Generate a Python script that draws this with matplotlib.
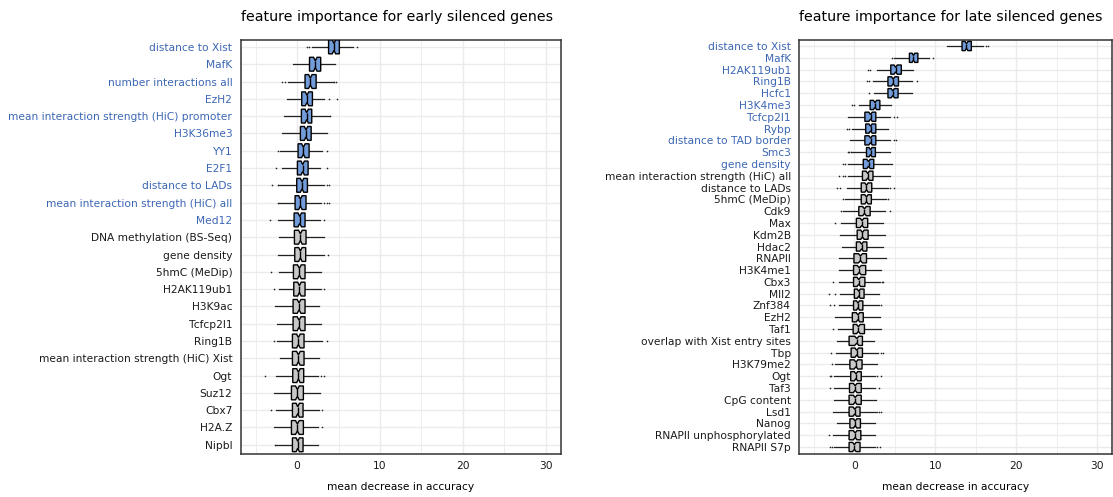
import numpy as np
import matplotlib.pyplot as plt
from matplotlib.ticker import MultipleLocator

# early silenced genes: box summaries of permutation importance
early_features = ['distance to Xist', 'MafK', 'number interactions all', 'EzH2',
                  'mean interaction strength (HiC) promoter', 'H3K36me3', 'YY1', 'E2F1',
                  'distance to LADs', 'mean interaction strength (HiC) all', 'Med12',
                  'DNA methylation (BS-Seq)', 'gene density', '5hmC (MeDip)', 'H2AK119ub1',
                  'H3K9ac', 'Tcfcp2l1', 'Ring1B', 'mean interaction strength (HiC) Xist',
                  'Ogt', 'Suz12', 'Cbx7', 'H2A.Z', 'Nipbl']
early_q1 = [3.8, 1.5, 0.96, 0.56, 0.52, 0.4, 0.12, 0.04, -0.04, -0.24, -0.36, -0.32,
            -0.28, -0.44, -0.4, -0.48, -0.48, -0.56, -0.56, -0.52, -0.68, -0.56, -0.68, -0.56]
early_med = [4.45, 2.2, 1.6, 1.2, 1.16, 1.08, 0.76, 0.68, 0.6, 0.4, 0.32, 0.4,
             0.4, 0.28, 0.28, 0.24, 0.24, 0.16, 0.16, 0.16, 0.04, 0.08, 0.04, 0.08]
early_q3 = [5.1, 2.85, 2.3, 1.85, 1.77, 1.7, 1.45, 1.33, 1.25, 1.08, 0.96, 1.08,
            1.04, 0.96, 0.96, 0.96, 0.96, 0.84, 0.84, 0.8, 0.76, 0.72, 0.76, 0.72]
early_wlo = [1.8, -0.5, -1.1, -1.25, -1.6, -1.85, -2.0, -1.8, -2.2, -2.15, -2.35, -2.15,
             -2.35, -2.2, -2.2, -2.7, -2.4, -2.4, -2.1, -2.5, -2.8, -2.6, -2.8, -2.5]
early_whi = [6.7, 4.6, 4.3, 3.3, 3.8, 3.6, 3.05, 2.8, 3.3, 2.9, 2.75, 3.25,
             3.25, 2.85, 2.9, 2.7, 2.85, 3.0, 2.65, 2.5, 2.75, 2.7, 2.5, 2.55]
early_out = [[1.25, 1.4, 7.2], [], [-1.8, -1.5, 4.5, 4.7], [3.85, 4.8], [4.0], [],
             [-2.25, 3.6], [-2.5, 3.65], [-3.05, -2.3, 3.6, 3.9], [-2.3, 3.3, 3.55, 3.9],
             [-3.3, 3.2], [], [3.7], [-3.1], [-2.75, 3.25], [], [], [-2.8, 3.65], [],
             [-3.85, 2.85, 3.25], [], [-3.1, 2.95], [3.0], [-2.65]]
early_n_top = 11

# late silenced genes
late_features = ['distance to Xist', 'MafK', 'H2AK119ub1', 'Ring1B', 'Hcfc1', 'H3K4me3',
                 'Tcfcp2l1', 'Rybp', 'distance to TAD border', 'Smc3', 'gene density',
                 'mean interaction strength (HiC) all', 'distance to LADs', '5hmC (MeDip)',
                 'Cdk9', 'Max', 'Kdm2B', 'Hdac2', 'RNAPII', 'H3K4me1', 'Cbx3', 'Mll2',
                 'Znf384', 'EzH2', 'Taf1', 'overlap with Xist entry sites', 'Tbp',
                 'H3K79me2', 'Ogt', 'Taf3', 'CpG content', 'Lsd1', 'Nanog',
                 'RNAPII unphosphorylated', 'RNAPII S7p']
late_q1 = [13.3, 6.8, 4.5, 4.15, 4.15, 1.95, 1.3, 1.4, 1.3, 1.5, 1.1, 1.0, 0.85, 0.85,
           0.55, 0.25, 0.35, 0.25, -0.05, -0.1, -0.1, 0.0, -0.1, -0.25, -0.15, -0.65,
           -0.4, -0.55, -0.45, -0.6, -0.65, -0.65, -0.55, -0.65, -0.65]
late_med = [13.85, 7.3, 5.1, 4.8, 4.75, 2.55, 2.0, 2.0, 2.0, 2.0, 1.75, 1.65, 1.5, 1.5,
            1.25, 0.95, 1.0, 0.9, 0.75, 0.6, 0.55, 0.55, 0.45, 0.45, 0.5, 0.3,
            0.3, 0.2, 0.2, 0.1, 0.1, 0.05, 0.1, 0.1, 0.0]
late_q3 = [14.45, 7.85, 5.8, 5.45, 5.4, 3.15, 2.65, 2.65, 2.65, 2.6, 2.4, 2.3, 2.15, 2.1,
           1.95, 1.65, 1.7, 1.55, 1.5, 1.4, 1.3, 1.2, 1.05, 1.1, 1.25, 1.0,
           1.0, 0.95, 0.85, 0.85, 0.85, 0.7, 0.75, 0.8, 0.7]
late_wlo = [11.5, 4.95, 2.85, 2.35, 2.4, 0.6, -0.8, -0.25, -0.5, -0.25, -0.75, -0.75, -0.9,
            -1.15, -1.35, -1.7, -1.8, -1.55, -1.9, -1.95, -1.95, -1.75, -1.95, -2.4, -2.0,
            -2.15, -2.3, -2.4, -2.5, -2.5, -2.5, -2.6, -2.15, -2.65, -2.5]
late_whi = [15.9, 9.25, 7.2, 7.1, 7.1, 4.5, 4.35, 4.2, 4.4, 4.35, 4.6, 4.45, 4.2, 3.95,
            3.8, 3.5, 3.75, 3.5, 3.85, 3.3, 3.2, 3.05, 3.0, 3.15, 3.3, 2.4,
            2.95, 2.85, 2.5, 2.6, 2.7, 2.85, 2.6, 2.6, 2.6]
late_out = [[16.3, 16.45], [4.6, 9.7], [1.7, 1.9], [1.55, 1.8, 7.8], [1.75],
            [-0.35, -0.05], [4.9, 5.3], [-0.95, -0.7], [4.9, 5.1], [-0.8, -0.6, -0.4],
            [-1.4, -1.2], [-1.9, -1.35, -1.1], [-2.1, -1.8, 4.45, 4.95], [-1.35, 4.1],
            [-1.7, 4.4], [-2.35], [], [], [], [], [-2.65, 3.4, 3.6], [-3.1, -2.4],
            [-2.95, -2.5, 3.25], [], [-2.6], [], [-2.85, 3.3, 3.5], [-2.7],
            [-3.05, -2.85, 2.85, 3.3], [-3.05, 3.05], [], [3.1, 3.3], [], [-3.1],
            [-2.95, -2.8, 2.85, 3.15]]
late_n_top = 11

n_runs = 100  # importance runs per feature, sets the notch size

BLUE_FILL = '#739cdb'
GREY_FILL = '#c8c8c8'
BLUE_TEXT = '#3b66b3'
GRID = '#ebebeb'


def draw_panel(ax, title, names, q1, med, q3, wlo, whi, out, n_top, box_width, ypad):
    stats = []
    for i in range(len(names)):
        iqr = q3[i] - q1[i]
        half_notch = 1.58 * iqr / np.sqrt(n_runs)
        stats.append({'label': names[i], 'q1': q1[i], 'med': med[i], 'q3': q3[i],
                      'whislo': wlo[i], 'whishi': whi[i], 'fliers': out[i],
                      'cilo': med[i] - half_notch, 'cihi': med[i] + half_notch})
    pos = np.arange(1, len(names) + 1)
    res = ax.bxp(stats, positions=pos, widths=box_width, orientation='horizontal',
                 shownotches=True, patch_artist=True, showcaps=False,
                 boxprops=dict(edgecolor='black', linewidth=1.0),
                 medianprops=dict(color='black', linewidth=1.0),
                 whiskerprops=dict(color='#222222', linewidth=0.9),
                 flierprops=dict(marker='o', markersize=1.2, markerfacecolor='#222222',
                                 markeredgecolor='none'))
    for i, box in enumerate(res['boxes']):
        box.set_facecolor(BLUE_FILL if i < n_top else GREY_FILL)
        box.set_zorder(3)
    for ln in res['medians']:
        ln.set_zorder(4)

    ax.set_xlim(-6.8, 31.8)
    ax.set_ylim(len(names) + ypad[1], 1 - ypad[0])
    ax.xaxis.set_major_locator(MultipleLocator(10))
    ax.xaxis.set_minor_locator(MultipleLocator(5))
    ax.grid(True, which='major', color=GRID, linewidth=1.0, zorder=0)
    ax.grid(True, which='minor', axis='x', color=GRID, linewidth=0.6, zorder=0)
    ax.set_axisbelow(True)
    ax.tick_params(axis='both', which='both', length=0, labelsize=7.7, colors='#1a1a1a')
    ax.tick_params(axis='y', pad=6)
    ax.tick_params(axis='x', pad=5)
    ax.set_yticks(pos)
    ax.set_yticklabels(names)
    for i, lab in enumerate(ax.get_yticklabels()):
        lab.set_color(BLUE_TEXT if i < n_top else '#1a1a1a')
    for sp in ax.spines.values():
        sp.set_color('#333333')
        sp.set_linewidth(1.1)
    ax.set_xlabel('mean decrease in accuracy', fontsize=7.7, labelpad=8)
    ax.set_title(title, loc='left', fontsize=10.2, pad=14)


fig = plt.figure(figsize=(11.13, 4.97), dpi=100)
ax1 = fig.add_axes([240.7 / 1113, 42.7 / 497, 320 / 1113, 414.3 / 497])
ax2 = fig.add_axes([799.3 / 1113, 42.7 / 497, 312.5 / 1113, 414.3 / 497])

draw_panel(ax1, 'feature importance for early silenced genes', early_features,
           early_q1, early_med, early_q3, early_wlo, early_whi, early_out, early_n_top,
           0.8, (0.4, 0.55))
draw_panel(ax2, 'feature importance for late silenced genes', late_features,
           late_q1, late_med, late_q3, late_wlo, late_whi, late_out, late_n_top,
           0.78, (0.51, 0.62))

fig.savefig('out.png', dpi=100)
